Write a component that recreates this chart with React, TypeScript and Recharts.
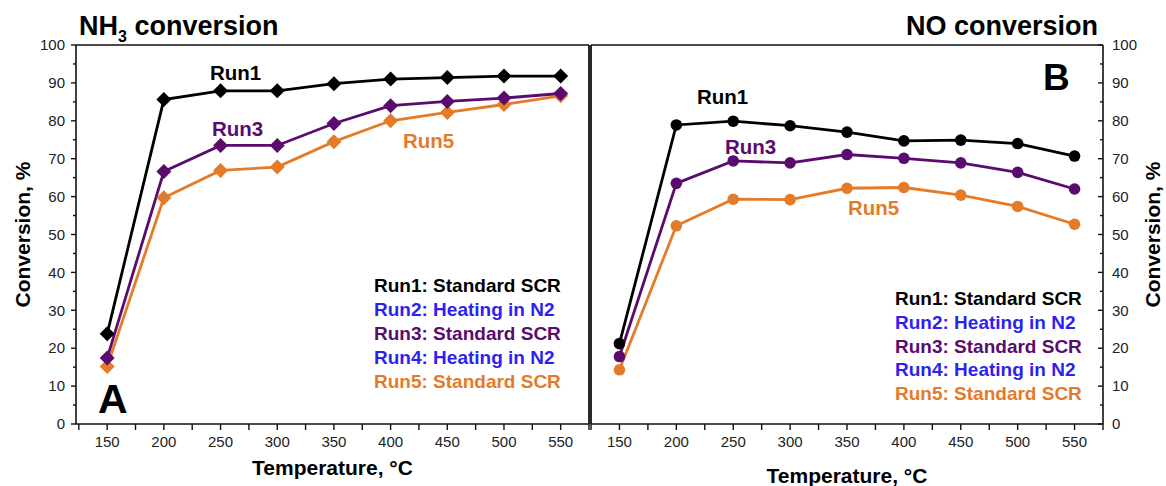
import React from "react";
import { LineChart, Line, XAxis, YAxis, Label, ReferenceLine } from "recharts";

const temps = [150, 200, 250, 300, 350, 400, 450, 500, 550];

const nh3Run1 = [23.8, 85.6, 87.9, 87.9, 89.8, 91.0, 91.4, 91.8, 91.8];
const nh3Run3 = [17.4, 66.6, 73.5, 73.5, 79.3, 84.0, 85.1, 86.0, 87.2];
const nh3Run5 = [15.2, 59.7, 66.9, 67.8, 74.5, 80.0, 82.2, 84.3, 86.6];

const noRun1 = [21.2, 78.9, 79.9, 78.7, 77.0, 74.7, 74.9, 74.0, 70.7];
const noRun3 = [17.8, 63.5, 69.4, 68.9, 71.1, 70.1, 68.9, 66.4, 62.0];
const noRun5 = [14.3, 52.3, 59.3, 59.2, 62.2, 62.4, 60.4, 57.4, 52.7];

const xTicks = [125, 150, 175, 200, 225, 250, 275, 300, 325, 350, 375, 400, 425, 450, 475, 500, 525, 550, 575];
const yTicks = [0, 5, 10, 15, 20, 25, 30, 35, 40, 45, 50, 55, 60, 65, 70, 75, 80, 85, 90, 95, 100];

const legendItems = [
  { text: "Run1: Standard SCR", color: "#000000" },
  { text: "Run2: Heating in N2", color: "#2f1ff2" },
  { text: "Run3: Standard SCR", color: "#5a0b6e" },
  { text: "Run4: Heating in N2", color: "#2f1ff2" },
  { text: "Run5: Standard SCR", color: "#e47b28" },
];

const BLACK = "#000000";
const PURPLE = "#5a0b6e";
const ORANGE = "#e47b28";
const FONT = "'Liberation Sans', Arial, sans-serif";
const AXIS = { stroke: "#111", strokeWidth: 1.6 };

const nh3Rows = temps.map((t, i) => ({ t, run1: nh3Run1[i], run3: nh3Run3[i], run5: nh3Run5[i] }));
const noRows = temps.map((t, i) => ({ t, run1: noRun1[i], run3: noRun3[i], run5: noRun5[i] }));

const diamond = (color: string) => (props: any) => {
  const { cx, cy, index } = props;
  if (cx == null || cy == null) return <g key={index} />;
  const s = 7.5;
  return (
    <polygon
      key={index}
      points={`${cx},${cy - s} ${cx + s},${cy} ${cx},${cy + s} ${cx - s},${cy}`}
      fill={color}
    />
  );
};

const circle = (color: string) => (props: any) => {
  const { cx, cy, index } = props;
  if (cx == null || cy == null) return <g key={index} />;
  return <circle key={index} cx={cx} cy={cy} r={5.8} fill={color} />;
};

// x ticks: every 25, labels every 50
const XTick = (props: any) => {
  const { x, y, payload } = props;
  const axisY = y - 12;
  const major = payload.value % 50 === 0;
  return (
    <g>
      <line x1={x} y1={axisY} x2={x} y2={axisY + 6} stroke="#111" strokeWidth={1.4} />
      {major && (
        <text x={x} y={y} dy="0.71em" textAnchor="middle" fontSize={15} fill="#222" fontFamily={FONT}>
          {payload.value}
        </text>
      )}
    </g>
  );
};

const LeftYTick = (props: any) => {
  const { x, y, payload } = props;
  const axisX = x + 11;
  const major = payload.value % 10 === 0;
  return (
    <g>
      <line x1={axisX - (major ? 5 : 3)} y1={y} x2={axisX} y2={y} stroke="#111" strokeWidth={1.4} />
      {major && (
        <text x={x} y={y} dy="0.35em" textAnchor="end" fontSize={15} fill="#222" fontFamily={FONT}>
          {payload.value}
        </text>
      )}
    </g>
  );
};

const RightYTick = (props: any) => {
  const { x, y, payload } = props;
  const axisX = x - 9;
  const major = payload.value % 10 === 0;
  return (
    <g>
      <line x1={axisX - (major ? 5 : 3)} y1={y} x2={axisX} y2={y} stroke="#111" strokeWidth={1.4} />
      {major && (
        <text x={x} y={y} dy="0.35em" textAnchor="start" fontSize={15} fill="#222" fontFamily={FONT}>
          {payload.value}
        </text>
      )}
    </g>
  );
};

const titleStyle = { fontFamily: FONT, fontWeight: 700, fontSize: 21, fill: "#000" };

export default function App() {
  return (
    <div style={{ position: "absolute", left: 0, top: 0, width: 1166, height: 486, background: "#fff", fontFamily: FONT }}>
      {/* NH3 panel */}
      <div style={{ position: "absolute", left: 0, top: 0 }}>
        <LineChart width={600} height={486} data={nh3Rows} margin={{ top: 45, right: 11, bottom: 0, left: 0 }}>
          <XAxis
            dataKey="t"
            type="number"
            domain={[122.5, 575]}
            ticks={xTicks}
            interval={0}
            height={62}
            tickSize={0}
            tickMargin={12}
            tickLine={false}
            axisLine={AXIS}
            tick={<XTick />}
          >
            <Label value="Temperature, °C" position="insideBottom" offset={11} style={titleStyle} />
          </XAxis>
          <YAxis
            type="number"
            domain={[0, 100]}
            ticks={yTicks}
            interval={0}
            width={76}
            tickSize={0}
            tickMargin={11}
            tickLine={false}
            axisLine={AXIS}
            tick={<LeftYTick />}
          >
            <Label value="Conversion, %" angle={-90} position="insideLeft" offset={23} style={{ ...titleStyle, textAnchor: "middle" }} />
          </YAxis>
          <ReferenceLine y={100} stroke="#111" strokeWidth={1.6} />
          <ReferenceLine x={575} stroke="#111" strokeWidth={1.8} />
          <Line dataKey="run5" stroke={ORANGE} strokeWidth={2.8} dot={diamond(ORANGE)} activeDot={false} isAnimationActive={false} />
          <Line dataKey="run3" stroke={PURPLE} strokeWidth={2.8} dot={diamond(PURPLE)} activeDot={false} isAnimationActive={false} />
          <Line dataKey="run1" stroke={BLACK} strokeWidth={2.8} dot={diamond(BLACK)} activeDot={false} isAnimationActive={false} />
        </LineChart>
      </div>

      {/* NO panel */}
      <div style={{ position: "absolute", left: 580, top: 0 }}>
        <LineChart width={586} height={486} data={noRows} margin={{ top: 45, right: 0, bottom: 0, left: 11 }}>
          <XAxis
            dataKey="t"
            type="number"
            domain={[125, 575]}
            ticks={xTicks}
            interval={0}
            height={62}
            tickSize={0}
            tickMargin={12}
            tickLine={false}
            axisLine={AXIS}
            tick={<XTick />}
          >
            <Label value="Temperature, °C" position="insideBottom" offset={3} style={titleStyle} />
          </XAxis>
          <YAxis
            orientation="right"
            type="number"
            domain={[0, 100]}
            ticks={yTicks}
            interval={0}
            width={63}
            tickSize={0}
            tickMargin={9}
            tickLine={false}
            axisLine={AXIS}
            tick={<RightYTick />}
          >
            <Label value="Conversion, %" angle={-90} position="insideRight" offset={13} style={{ ...titleStyle, textAnchor: "middle" }} />
          </YAxis>
          <ReferenceLine y={100} stroke="#111" strokeWidth={1.6} />
          <ReferenceLine x={125} stroke="#111" strokeWidth={1.8} />
          <Line dataKey="run5" stroke={ORANGE} strokeWidth={2.8} dot={circle(ORANGE)} activeDot={false} isAnimationActive={false} />
          <Line dataKey="run3" stroke={PURPLE} strokeWidth={2.8} dot={circle(PURPLE)} activeDot={false} isAnimationActive={false} />
          <Line dataKey="run1" stroke={BLACK} strokeWidth={2.8} dot={circle(BLACK)} activeDot={false} isAnimationActive={false} />
        </LineChart>
      </div>

      {/* annotations */}
      <svg width={1166} height={486} style={{ position: "absolute", left: 0, top: 0, pointerEvents: "none" }} fontFamily={FONT} fontWeight={700}>
        <text x={79} y={35} fontSize={27} fill="#000">
          NH<tspan dy={7} fontSize={16}>3</tspan>
          <tspan dy={-7}> conversion</tspan>
        </text>
        <text x={1098} y={35} fontSize={27} fill="#000" textAnchor="end">NO conversion</text>
        <text x={98} y={413} fontSize={41} fill="#000">A</text>
        <text x={1043} y={90} fontSize={37} fill="#000">B</text>

        <text x={210} y={80} fontSize={20.5} fill={BLACK}>Run1</text>
        <text x={212} y={136} fontSize={20.5} fill={PURPLE}>Run3</text>
        <text x={403} y={148} fontSize={20.5} fill={ORANGE}>Run5</text>

        <text x={697} y={104} fontSize={20.5} fill={BLACK}>Run1</text>
        <text x={725} y={154} fontSize={20.5} fill={PURPLE}>Run3</text>
        <text x={848} y={215} fontSize={20.5} fill={ORANGE}>Run5</text>

        {legendItems.map((item, i) => (
          <text key={"l" + i} x={374} y={292 + i * 24} fontSize={19} fill={item.color}>{item.text}</text>
        ))}
        {legendItems.map((item, i) => (
          <text key={"r" + i} x={895} y={305 + i * 23.8} fontSize={19} fill={item.color}>{item.text}</text>
        ))}
      </svg>
    </div>
  );
}
